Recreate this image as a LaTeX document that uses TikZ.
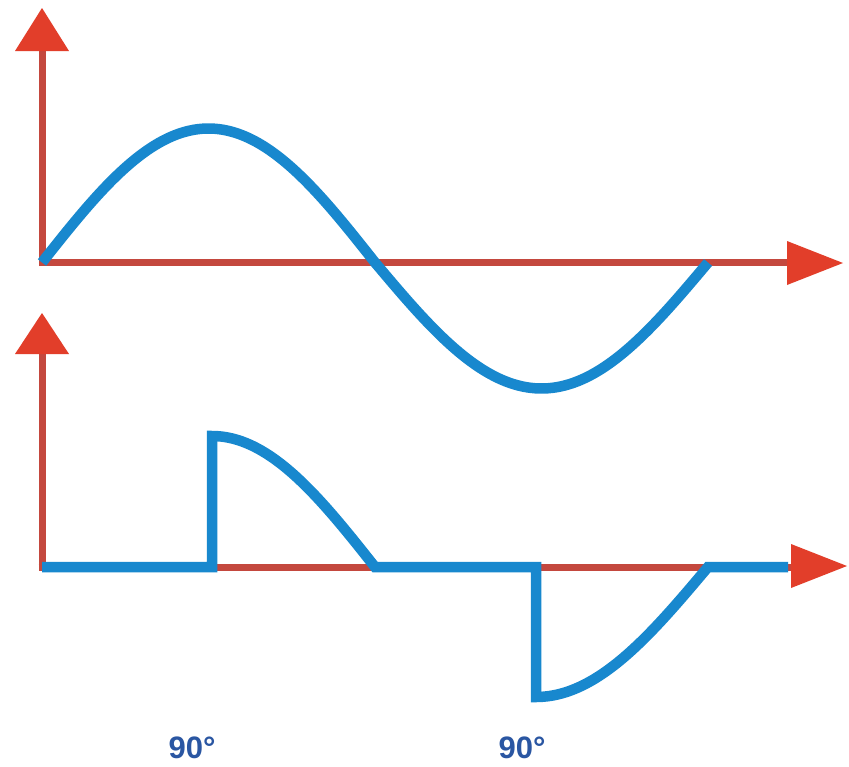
\documentclass[tikz,border=0pt]{standalone}
\usepackage{fontspec}
\setmainfont{Liberation Sans}
\definecolor{axisred}{RGB}{196,72,62}
\definecolor{tipred}{RGB}{226,62,42}
\definecolor{waveblue}{RGB}{24,136,206}
\definecolor{labelblue}{RGB}{42,86,162}
\tikzset{
  axisline/.style={draw=axisred, line width=7pt},
  tiptri/.style={fill=tipred},
  wave/.style={draw=waveblue, line width=10.5pt, line join=miter},
  anglelabel/.style={text=labelblue, font=\fontsize{31}{33}\selectfont\bfseries, inner sep=0pt, anchor=base}
}
\begin{document}
\begin{tikzpicture}[x=1pt,y=-1pt]
\useasboundingbox[fill=white] (0,0) rectangle (849,766);
% named points
\coordinate (o1) at (42,262.5);
\coordinate (v1) at (42,50);
\coordinate (h1) at (788,262.5);
\coordinate (o2) at (42,567);
\coordinate (v2) at (42,353);
\coordinate (h2) at (792,567);
% axes
\draw[axisline] (42,266) -- (v1);
\draw[axisline] (38.5,262.5) -- (h1);
\draw[axisline] (42,570.5) -- (v2);
\draw[axisline] (38.5,567) -- (h2);
% top sine wave
\draw[wave] plot[domain=0:180,samples=80,smooth] ({42+\x*1.85},{262.5-134*sin(\x)})
  -- plot[domain=180:360,samples=80,smooth] ({42+\x*1.85},{262.5-126*sin(\x)});
% bottom chopped wave
\draw[wave] (42,567) -- (212,567) -- (212,436)
  -- plot[domain=0:90,samples=50,smooth] ({212+\x*1.8111},{567-131*cos(\x)})
  -- (536,567) -- (536,697)
  -- plot[domain=0:90,samples=50,smooth] ({536+\x*1.9111},{567+130*cos(\x)})
  -- (788,567);
% arrowheads
\fill[tiptri] (42,8) -- (69,51) -- (15,51) -- cycle;
\fill[tiptri] (843,263) -- (787,241) -- (787,285) -- cycle;
\fill[tiptri] (42,313) -- (69,354) -- (15,354) -- cycle;
\fill[tiptri] (847,566) -- (791,544) -- (791,588) -- cycle;
% labels
\node[anglelabel] (l1) at (192,758) {90°};
\node[anglelabel] (l2) at (522,758) {90°};
\end{tikzpicture}
\end{document}
